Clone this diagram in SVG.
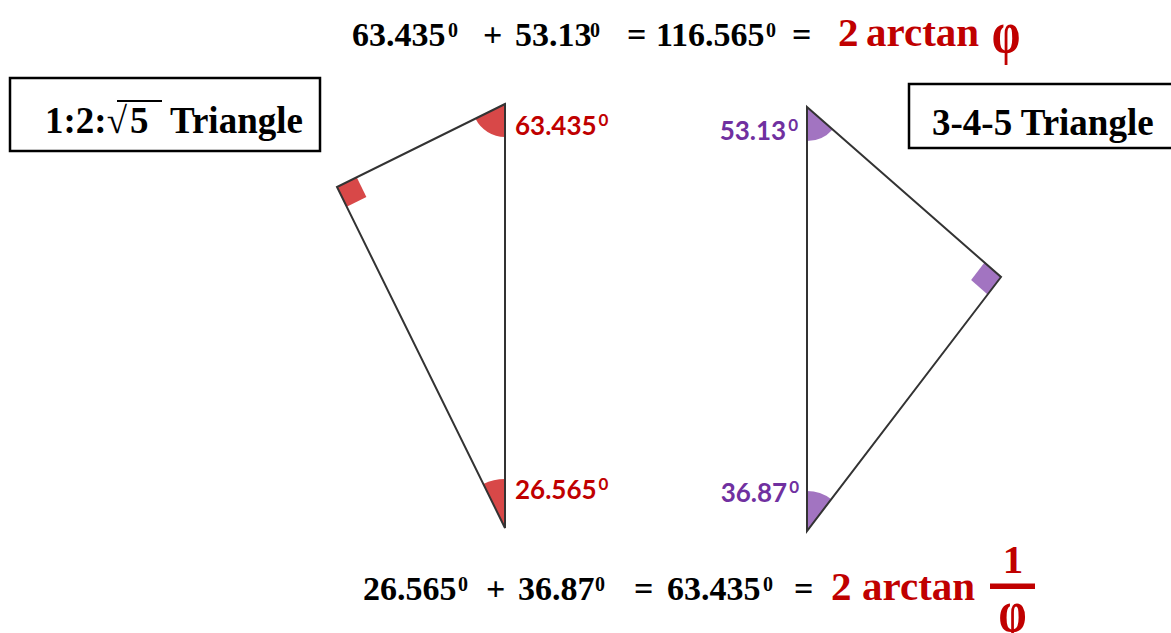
<svg xmlns="http://www.w3.org/2000/svg" width="1171" height="633" viewBox="0 0 1171 633">
<style>
.eq{font-family:"Liberation Serif","Times New Roman",serif;font-weight:bold;font-size:34px;fill:#000}
.sup{font-size:20px}
.red{fill:#C00000}
.rt{font-family:"Liberation Serif","Times New Roman",serif;font-weight:bold;font-size:41px;fill:#C00000}
.box{fill:#fff;stroke:#000;stroke-width:2.5}
.bt{font-family:"Liberation Serif","Times New Roman",serif;font-weight:bold;font-size:37px;fill:#000}
.edge{stroke:#333;stroke-width:2;fill:none;stroke-linecap:round}
.lbl{font-family:Lato,"Open Sans",sans-serif;font-weight:bold;font-size:26px}
.ls{font-size:17px}
.rfill{fill:#D84848}
.pfill{fill:#A274C1}
.rtext{fill:#C00000}
.ptext{fill:#7030A0}
</style>
<rect width="1171" height="633" fill="#fff"/>

<g id="eq-top">
  <text class="eq" y="46"><tspan x="352">63.435</tspan><tspan class="sup" x="448" y="37">0</tspan><tspan x="483" y="46">+</tspan><tspan x="515">53.13</tspan><tspan class="sup" x="590" y="37">0</tspan><tspan x="627" y="46">=</tspan><tspan x="656">116.565</tspan><tspan class="sup" x="766" y="37">0</tspan><tspan x="792" y="46">=</tspan></text>
  <text class="rt" y="46"><tspan x="838">2</tspan><tspan x="866">arctan</tspan></text>
  <text class="rt" transform="translate(1006,51.5) scale(1.12,1.43)" x="0" y="0" font-size="70" text-anchor="middle">φ</text>
</g>

<g id="eq-bottom">
  <text class="eq" y="600"><tspan x="363">26.565</tspan><tspan class="sup" x="458" y="591">0</tspan><tspan x="486" y="600">+</tspan><tspan x="518">36.87</tspan><tspan class="sup" x="595" y="591">0</tspan><tspan x="634" y="600">=</tspan><tspan x="667">63.435</tspan><tspan class="sup" x="763" y="591">0</tspan><tspan x="794" y="600">=</tspan></text>
  <text class="rt" y="600"><tspan x="831">2</tspan><tspan x="862">arctan</tspan></text>
  <text class="rt" x="1013" y="573" font-size="48" text-anchor="middle">1</text>
  <rect class="red" x="990" y="583.5" width="45" height="5.5"/>
  <text class="rt" transform="translate(1012.5,631) scale(1.1,1.43)" x="0" y="0" font-size="64" text-anchor="middle">φ</text>
</g>

<g id="box-left">
  <rect class="box" x="10" y="78" width="310" height="73"/>
  <text class="bt" y="133"><tspan x="45">1:2:</tspan><tspan font-weight="normal">√</tspan><tspan x="130">5</tspan><tspan x="170">Triangle</tspan></text>
  <line x1="117" y1="101" x2="162" y2="101" stroke="#000" stroke-width="2"/>
</g>

<g id="box-right">
  <rect class="box" x="909" y="84" width="270" height="64"/>
  <text class="bt" x="932" y="135">3-4-5 Triangle</text>
</g>

<g id="triangle-left">
  <path class="rfill" d="M505,104 L505,137 A33,33 0 0 1 475.4,118.6 Z"/>
  <path class="rfill" d="M505,528 L505,479 A49,49 0 0 0 483.3,484 Z"/>
  <path class="rfill" d="M337,187 L356.7,177.3 L366.4,197 L346.7,206.7 Z"/>
  <path class="edge" d="M505,104 L337,187 L505,528 Z"/>
  <text class="lbl rtext" x="515" y="135">63.435<tspan class="ls" dx="2" dy="-9">0</tspan></text>
  <text class="lbl rtext" x="515" y="499">26.565<tspan class="ls" dx="2" dy="-9">0</tspan></text>
</g>

<g id="triangle-right">
  <path class="pfill" d="M807,107 L807,141 A34,34 0 0 0 832.6,129.4 Z"/>
  <path class="pfill" d="M807,531 L807,491 A40,40 0 0 1 831.3,499.2 Z"/>
  <path class="pfill" d="M1001,277 L984.5,262.5 L971.1,280 L987.6,294.5 Z"/>
  <path class="edge" d="M807,107 L1001,277 L807,531 Z"/>
  <text class="lbl ptext" x="798" y="140" text-anchor="end">53.13<tspan class="ls" dx="2" dy="-9">0</tspan></text>
  <text class="lbl ptext" x="799" y="502" text-anchor="end">36.87<tspan class="ls" dx="2" dy="-9">0</tspan></text>
</g>
</svg>
